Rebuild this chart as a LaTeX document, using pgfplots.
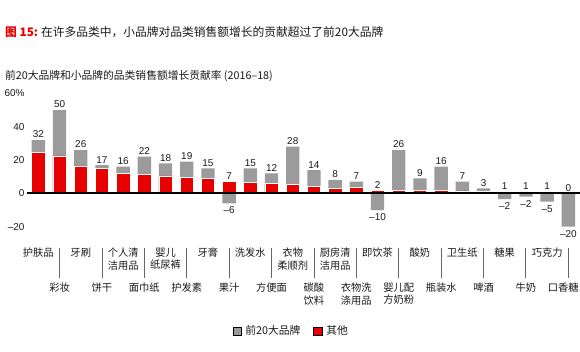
\documentclass[border=0pt]{standalone}
\usepackage{pgfplots}
\pgfplotsset{compat=1.18}
\usepackage{fontspec}
\setmainfont{Noto Sans CJK SC}
\newfontfamily\lat{Liberation Sans}
\definecolor{cred}{RGB}{230,0,0}
\definecolor{cgray}{RGB}{155,155,155}
\definecolor{txt}{RGB}{25,25,25}
\begin{document}
\begin{tikzpicture}[
  catT/.style={anchor=north, align=center, inner sep=0pt, text=txt, font=\fontsize{10.3}{12.8}\selectfont},
  vl/.style={black!60, line width=0.9bp}]
\useasboundingbox (0,0) rectangle (580bp,352bp);
\begin{axis}[
  at={(26.7bp,117bp)}, anchor=south west,
  scale only axis, width=553.3bp, height=145bp,
  xmin=-0.55, xmax=25.55, ymin=-25, ymax=62,
  axis x line=none, axis y line*=left, y axis line style={draw=none},
  major tick length=0pt,
  ytick={-20,0,20,40,60}, yticklabels={–20,0,20,40,60\%},
  yticklabel style={font=\lat\fontsize{10}{12}\selectfont, text=txt, anchor=east, inner sep=0pt, xshift=-2bp},
  clip=false,
  legend columns=2,
  legend style={draw=none, fill=none, at={(axis description cs:0.478,-0.662)}, anchor=center,
    font=\fontsize{10.8}{12}\selectfont, text=txt,
    /tikz/every odd column/.append style={column sep=2bp},
    /tikz/every even column/.append style={column sep=11bp}},
  legend image code/.code={\fill[#1] (0bp,-4bp) rectangle (8.5bp,4bp);},
]
% top-20 brands (gray): positive total or negative contribution
\addplot[ybar, bar width=0.63, bar shift=0pt, fill=cgray, draw=none, forget plot] coordinates {
 (0,32) (1,50) (2,26) (3,17) (4,16) (5,22) (6,18) (7,19) (8,15) (9,-6)
 (10,15) (11,12) (12,28) (13,14) (14,8) (15,7) (16,-10) (17,26) (18,9) (19,16)
 (20,7) (21,3) (22,-3.5) (23,-2) (24,-5) (25,-20)};
% small brands (red)
\addplot[ybar, bar width=0.63, bar shift=0pt, fill=cred, draw=white, line width=0.6bp, forget plot] coordinates {
 (0,24.5) (1,22.5) (2,16.5) (3,15) (4,12) (5,11.5) (6,10.5) (7,9.5) (8,9) (9,7)
 (10,6.5) (11,6) (12,5.5) (13,4) (14,3.2) (15,3.4) (16,2) (17,2) (18,2) (19,2)
 (20,1.5) (21,1) (22,1) (23,1) (24,1) (25,0)};
\addlegendimage{fill=cgray}\addlegendentry{前20大品牌}
\addlegendimage{fill=cred}\addlegendentry{其他}
% zero line
\draw[black, line width=2.2bp] (axis cs:-0.55,0) -- (axis cs:25.55,0);
% value labels
\addplot[draw=none, mark=none, forget plot, nodes near coords, point meta=explicit symbolic,
  nodes near coords style={anchor=south, inner sep=1.8bp, text=txt, font=\lat\fontsize{10}{12}\selectfont}] coordinates {
 (0,32)[32] (1,50)[50] (2,26)[26] (3,17)[17] (4,16)[16] (5,22)[22] (6,18)[18] (7,19)[19] (8,15)[15] (9,7)[7]
 (10,15)[15] (11,12)[12] (12,28)[28] (13,14)[14] (14,8)[8] (15,7)[7] (16,2)[2] (17,26)[26] (18,9)[9] (19,16)[16]
 (20,7)[7] (21,3)[3] (22,1)[1] (23,1)[1] (24,1)[1] (25,0)[0]};
\addplot[draw=none, mark=none, forget plot, nodes near coords, point meta=explicit symbolic,
  nodes near coords style={anchor=north, inner sep=3.5bp, text=txt, font=\lat\fontsize{10}{12}\selectfont}] coordinates {
 (9,-6)[–6] (16,-10)[–10] (22,-3.5)[–2] (23,-2)[–2] (24,-5)[–5] (25,-20)[–20]};
% category labels, top row
\node[catT] at (axis cs:0,-32.6) {护肤品};
\node[catT] at (axis cs:2,-32.6) {牙刷};
\node[catT] at (axis cs:4,-32.6) {个人清\\洁用品};
\node[catT] at (axis cs:6,-32.6) {婴儿\\纸尿裤};
\node[catT] at (axis cs:8,-32.6) {牙膏};
\node[catT] at (axis cs:10,-32.6) {洗发水};
\node[catT] at (axis cs:12,-32.6) {衣物\\柔顺剂};
\node[catT] at (axis cs:14,-32.6) {厨房清\\洁用品};
\node[catT] at (axis cs:16,-32.6) {即饮茶};
\node[catT] at (axis cs:18,-32.6) {酸奶};
\node[catT] at (axis cs:20,-32.6) {卫生纸};
\node[catT] at (axis cs:22,-32.6) {糖果};
\node[catT] at (axis cs:24,-32.6) {巧克力};
% bottom row
\node[catT] at (axis cs:1,-53.6) {彩妆};
\node[catT] at (axis cs:3,-53.6) {饼干};
\node[catT] at (axis cs:5,-53.6) {面巾纸};
\node[catT] at (axis cs:7,-53.6) {护发素};
\node[catT] at (axis cs:9,-53.6) {果汁};
\node[catT] at (axis cs:11,-53.6) {方便面};
\node[catT] at (axis cs:13,-53.6) {碳酸\\饮料};
\node[catT] at (axis cs:15,-53.6) {衣物洗\\涤用品};
\node[catT] at (axis cs:17,-53.6) {婴儿配\\方奶粉};
\node[catT] at (axis cs:19,-53.6) {瓶装水};
\node[catT] at (axis cs:21,-53.6) {啤酒};
\node[catT] at (axis cs:23,-53.6) {牛奶};
\node[catT, xshift=-5bp] at (axis cs:25,-53.6) {口香糖};
% separator lines
\draw[vl] (axis cs:1,-32.8) -- (axis cs:1,-50.8);
\draw[vl] (axis cs:3,-32.8) -- (axis cs:3,-50.8);
\draw[vl] (axis cs:5,-32.8) -- (axis cs:5,-50.8);
\draw[vl] (axis cs:7,-32.8) -- (axis cs:7,-50.8);
\draw[vl] (axis cs:9,-32.8) -- (axis cs:9,-50.8);
\draw[vl] (axis cs:11,-32.8) -- (axis cs:11,-50.8);
\draw[vl] (axis cs:13,-32.8) -- (axis cs:13,-50.8);
\draw[vl] (axis cs:15,-32.8) -- (axis cs:15,-50.8);
\draw[vl] (axis cs:17,-32.8) -- (axis cs:17,-50.8);
\draw[vl] (axis cs:19,-32.8) -- (axis cs:19,-50.8);
\draw[vl] (axis cs:21,-32.8) -- (axis cs:21,-50.8);
\draw[vl] (axis cs:23,-32.8) -- (axis cs:23,-50.8);
\draw[vl] (axis cs:25,-32.8) -- (axis cs:25,-50.8);
\end{axis}
\node[anchor=west, inner sep=0pt, text=txt, font=\fontsize{11.8}{14}\selectfont] at (5bp,320bp)
  {{\bfseries\color{cred}图 15:}\hspace{3bp}在许多品类中，小品牌对品类销售额增长的贡献超过了前20大品牌};
\node[anchor=west, inner sep=0pt, text=txt, font=\fontsize{10.8}{12}\selectfont] at (5bp,276bp)
  {前20大品牌和小品牌的品类销售额增长贡献率 (2016–18)};
\end{tikzpicture}
\end{document}
